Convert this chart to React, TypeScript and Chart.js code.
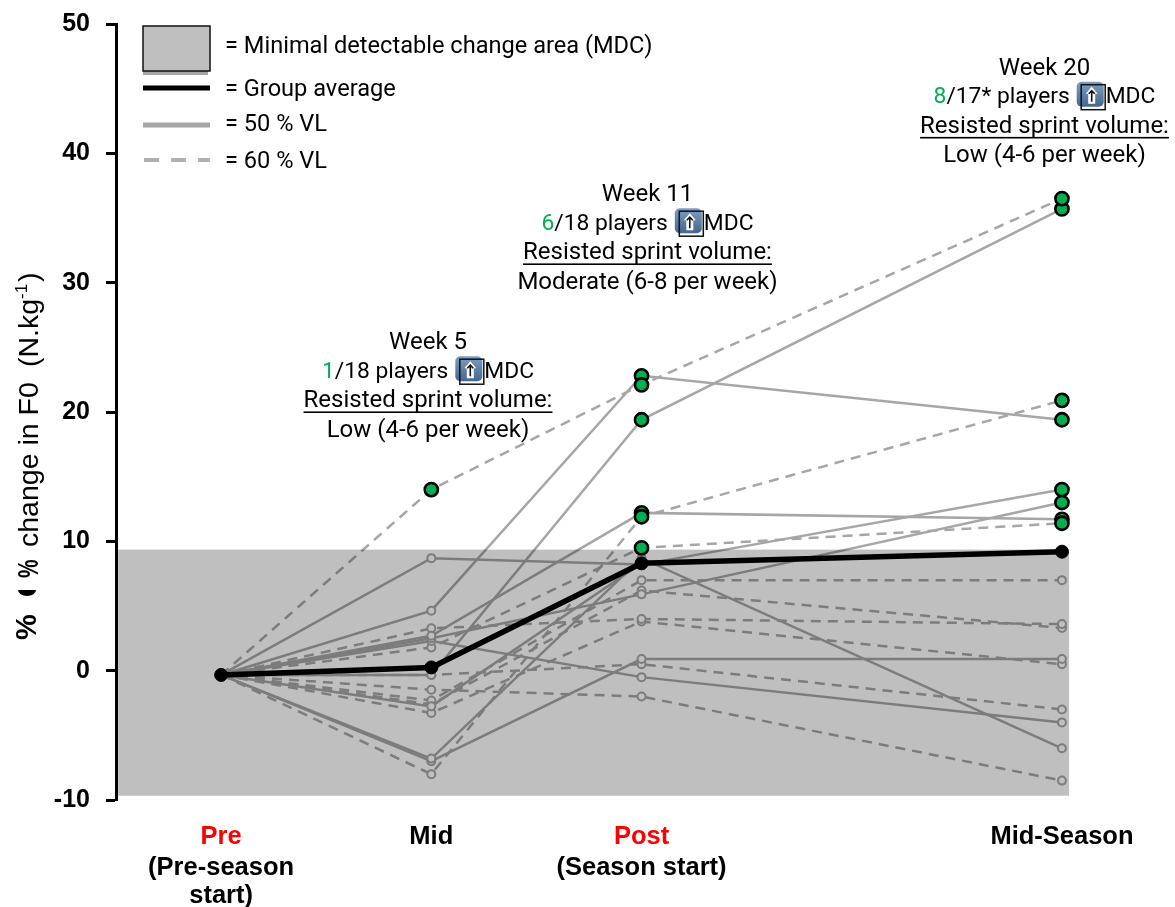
import React, { useEffect, useRef } from "react";
import { Chart, registerables } from "chart.js";

Chart.register(...registerables);

// ---------- data ----------
const timeWeeks = [0, 5, 10, 20];
const preValue = -0.33;
const groupAverage = [-0.33, 0.25, 8.3, 9.2];

const solidMid = [8.7, 4.64, 2.7, 2.5, 2.3, -0.33, -2.76, -6.8, -7.0];
const solidPost = [8.2, 22.8, 12.2, 5.9, -0.5, 19.4, 8.3, 8.7, 0.9];
const solidSeason = [14.0, 19.4, 11.7, 13.0, -4.0, 35.7, null, -6.0, 0.9];

const dashedMid = [14.0, 3.27, 1.8, -0.33, -1.47, -2.3, -2.6, -3.27, -8.0];
const dashedPost = [22.1, 4.0, 9.5, 0.5, -2.0, 7.0, 6.2, 3.8, 11.9];
const dashedSeason = [36.5, 3.6, 11.4, -3.0, -8.5, 7.0, 3.3, 0.5, 20.9];

const mdcUpper = 9.36;
const mdcLower = -9.67;

const yTicks = [-10, 0, 10, 20, 30, 40, 50];
const xTickLabels = ["Pre", "Mid", "Post", "Mid-Season"];
const xTickColors = ["#ff0000", "#000000", "#ff0000", "#000000"];
const xSubLabels = [["(Pre-season", "start)"], [], ["(Season start)"], []];

const legendLabels = [
  "= Minimal detectable change area (MDC)",
  "= Group average",
  "= 50 % VL",
  "= 60 % VL",
];

const noteWeeks = ["Week 5", "Week 11", "Week 20"];
const noteCounts = ["1", "6", "8"];
const noteTotals = ["/18 players", "/18 players", "/17* players"];
const noteVolumes = ["Low (4-6 per week)", "Moderate (6-8 per week)", "Low (4-6 per week)"];
const noteHeading = "Resisted sprint volume:";

// ---------- layout of the text blocks ----------
const noteCenters = [428, 647.5, 1044.5];
const noteTops = [343, 195, 68.5];
const noteLineGap = 29.2;
const TEXT_FONT = "24px Roboto";
const COUNT_FONT = "22.8px Roboto";
const LEGEND_FONT = "23.6px Roboto";
const BOLD_AXIS = 'bold 25.5px "Liberation Sans"';

const GREY = "#a6a6a6";
const GREEN = "#00b050";

function trajectory(mid: number, post: number, season: number | null) {
  const ys = [preValue, mid, post, season];
  return timeWeeks
    .map((x, i) => ({ x, y: ys[i] }))
    .filter((p) => p.y !== null);
}

function drawIcon(ctx: CanvasRenderingContext2D, x: number, yc: number) {
  // blue rounded tile
  const g = ctx.createLinearGradient(0, yc - 14, 0, yc + 10);
  g.addColorStop(0, "#7e9fc2");
  g.addColorStop(1, "#47698f");
  ctx.fillStyle = g;
  ctx.beginPath();
  ctx.roundRect(x, yc - 14, 27, 25, 5);
  ctx.fill();
  // white arrow
  const c = x + 15;
  ctx.fillStyle = "#ffffff";
  ctx.beginPath();
  ctx.moveTo(c, yc - 9);
  ctx.lineTo(c + 6, yc - 2);
  ctx.lineTo(c + 3.5, yc - 2);
  ctx.lineTo(c + 3.5, yc + 8);
  ctx.lineTo(c - 3.5, yc + 8);
  ctx.lineTo(c - 3.5, yc - 2);
  ctx.lineTo(c - 6, yc - 2);
  ctx.closePath();
  ctx.fill();
  // frame
  ctx.strokeStyle = "#111111";
  ctx.lineWidth = 1.5;
  ctx.strokeRect(x + 4.5, yc - 11, 24, 25);
  // small black arrow
  ctx.lineWidth = 1.6;
  ctx.beginPath();
  ctx.moveTo(c, yc + 6);
  ctx.lineTo(c, yc - 5);
  ctx.moveTo(c - 3, yc - 2);
  ctx.lineTo(c, yc - 5);
  ctx.lineTo(c + 3, yc - 2);
  ctx.stroke();
}

const chartDecor = {
  id: "chartDecor",
  beforeDatasetDraw(chart: any, args: any) {
    // MDC band is laid over the individual players, under the highlighted marks
    if (args.index !== 1) return;
    const { x, y } = chart.scales;
    const ctx = chart.ctx;
    ctx.save();
    ctx.fillStyle = "rgba(0,0,0,0.25)";
    const left = x.getPixelForValue(-2.45);
    const right = x.getPixelForValue(20.17);
    const top = y.getPixelForValue(mdcUpper);
    const bottom = y.getPixelForValue(mdcLower);
    ctx.fillRect(left, top, right - left, bottom - top);
    ctx.restore();
  },
  afterDraw(chart: any) {
    const ctx = chart.ctx;
    const xs = chart.scales.x;
    ctx.save();

    // x sub labels
    ctx.fillStyle = "#000";
    ctx.font = BOLD_AXIS;
    ctx.textAlign = "center";
    ctx.textBaseline = "middle";
    xSubLabels.forEach((lines, i) => {
      lines.forEach((t, j) => {
        ctx.fillText(t, xs.getPixelForValue(timeWeeks[i]), 867.5 + j * 28.5);
      });
    });

    // y title
    ctx.save();
    ctx.translate(36, 640);
    ctx.rotate(-Math.PI / 2);
    ctx.textAlign = "left";
    ctx.textBaseline = "alphabetic";
    ctx.font = 'bold 29px "Liberation Sans"';
    ctx.fillText("%", 0, 0);
    ctx.beginPath();
    ctx.ellipse(50, -9, 6, 9, 0, Math.PI / 2, (3 * Math.PI) / 2);
    ctx.fill();
    ctx.save();
    ctx.translate(62, 2);
    ctx.scale(0.72, 1);
    ctx.fillText("%", 0, 0);
    ctx.restore();
    ctx.font = '28.5px "Liberation Sans"';
    ctx.fillText("change in F0", 93, 2);
    ctx.fillText("(N.kg", 273, 2);
    ctx.font = '17px "Liberation Sans"';
    ctx.fillText("-1", 341, -9);
    ctx.font = '28.5px "Liberation Sans"';
    ctx.fillText(")", 358, 2);
    ctx.restore();

    // legend
    ctx.fillStyle = "#a6a6a6";
    ctx.fillRect(143, 70, 65, 5);
    ctx.fillStyle = "#bfbfbf";
    ctx.fillRect(143, 26, 67, 45);
    ctx.strokeStyle = "#111";
    ctx.lineWidth = 1.5;
    ctx.strokeRect(143, 26, 67, 45);

    ctx.strokeStyle = "#000";
    ctx.lineWidth = 5;
    ctx.beginPath();
    ctx.moveTo(143, 88);
    ctx.lineTo(210, 88);
    ctx.stroke();
    ctx.strokeStyle = GREY;
    ctx.beginPath();
    ctx.moveTo(143, 125);
    ctx.lineTo(210, 125);
    ctx.stroke();
    ctx.lineWidth = 4;
    ctx.strokeStyle = "#b0b0b0";
    ctx.setLineDash([15, 12]);
    ctx.beginPath();
    ctx.moveTo(144, 160);
    ctx.lineTo(210, 160);
    ctx.stroke();
    ctx.setLineDash([]);

    ctx.font = LEGEND_FONT;
    ctx.textAlign = "left";
    ctx.fillStyle = "#000";
    const legendYs = [47, 90, 125, 162];
    legendLabels.forEach((t, i) => ctx.fillText(t, 225, legendYs[i]));

    // notes
    noteWeeks.forEach((week, i) => {
      const cx = noteCenters[i];
      const top = noteTops[i];
      ctx.font = TEXT_FONT;
      ctx.textAlign = "center";
      ctx.fillStyle = "#000";
      ctx.fillText(week, cx, top);
      ctx.fillText(noteVolumes[i], cx, top + noteLineGap * 3);
      ctx.fillText(noteHeading, cx, top + noteLineGap * 2);
      const hw = ctx.measureText(noteHeading).width;
      ctx.fillRect(cx - hw / 2, top + noteLineGap * 2 + 10, hw, 1.6);

      // count line
      ctx.font = COUNT_FONT;
      const count = noteCounts[i];
      const total = noteTotals[i];
      const iconW = 29;
      const cw = ctx.measureText(count).width;
      const tw = ctx.measureText(total).width;
      const mw = ctx.measureText("MDC").width;
      const full = cw + tw + 7 + iconW + mw;
      let px = cx - full / 2;
      ctx.textAlign = "left";
      ctx.fillStyle = GREEN;
      ctx.fillText(count, px, top + noteLineGap);
      px += cw;
      ctx.fillStyle = "#000";
      ctx.fillText(total, px, top + noteLineGap);
      px += tw + 7;
      drawIcon(ctx, px, top + noteLineGap - 2);
      px += iconW;
      ctx.fillStyle = "#000";
      ctx.fillText("MDC", px, top + noteLineGap);
    });
    ctx.restore();
  },
};

export default function App() {
  const ref = useRef<HTMLCanvasElement | null>(null);

  useEffect(() => {
    if (!ref.current) return;

    const solidSets = solidMid.map((m, i) => ({
      data: trajectory(m, solidPost[i], solidSeason[i]),
      borderColor: GREY,
      borderWidth: 2.5,
      pointBackgroundColor: "#ffffff",
      pointBorderColor: GREY,
      pointBorderWidth: 2,
      pointRadius: 4,
      tension: 0,
    }));
    const dashedSets = dashedMid.map((m, i) => ({
      data: trajectory(m, dashedPost[i], dashedSeason[i]),
      borderColor: GREY,
      borderWidth: 2.5,
      borderDash: [10, 7],
      pointBackgroundColor: "#ffffff",
      pointBorderColor: GREY,
      pointBorderWidth: 2,
      pointRadius: 4,
      tension: 0,
    }));

    const highlighted: { x: number; y: number }[] = [];
    [...solidSets, ...dashedSets].forEach((s) =>
      s.data.forEach((p: any) => {
        if (p.y > mdcUpper) highlighted.push(p);
      })
    );

    const chart = new Chart(ref.current, {
      type: "line",
      data: {
        datasets: [
          {
            data: timeWeeks.map((x, i) => ({ x, y: groupAverage[i] })),
            borderColor: "#000000",
            borderWidth: 5.5,
            pointBackgroundColor: "#000000",
            pointBorderColor: "#000000",
            pointRadius: 6.5,
            pointBorderWidth: 1,
            tension: 0,
          },
          {
            data: highlighted,
            showLine: false,
            pointBackgroundColor: GREEN,
            pointBorderColor: "#000000",
            pointBorderWidth: 2.6,
            pointRadius: 6.6,
          },
          ...solidSets,
          ...dashedSets,
        ] as any,
      },
      options: {
        responsive: false,
        animation: false,
        events: [],
        layout: { padding: { left: 0, right: 2, top: 24, bottom: 0 } },
        plugins: { legend: { display: false }, tooltip: { enabled: false } },
        scales: {
          x: {
            type: "linear",
            min: -2.5,
            max: 22.47,
            afterBuildTicks(axis: any) {
              axis.ticks = timeWeeks.map((value) => ({ value }));
            },
            afterFit(axis: any) {
              axis.height = 107;
              axis.paddingLeft = 0;
              axis.paddingRight = 0;
            },
            border: { display: false },
            grid: { display: false, drawTicks: false },
            ticks: {
              autoSkip: false,
              maxRotation: 0,
              padding: 22,
              font: { family: "Liberation Sans", size: 25.5, weight: "bold" },
              color: (c: any) => xTickColors[timeWeeks.indexOf(c.tick.value)],
              callback: (v: any) => xTickLabels[timeWeeks.indexOf(v)],
            },
          },
          y: {
            type: "linear",
            min: -10,
            max: 50,
            afterBuildTicks(axis: any) {
              axis.ticks = yTicks.map((value) => ({ value }));
            },
            afterFit(axis: any) {
              axis.width = 116;
              axis.paddingTop = 0;
              axis.paddingBottom = 0;
            },
            border: { display: true, color: "#000", width: 3 },
            grid: {
              drawOnChartArea: false,
              drawTicks: true,
              tickLength: 10,
              tickWidth: 3,
              tickColor: "#000",
            },
            ticks: {
              padding: 16,
              font: { family: "Liberation Sans", size: 25, weight: "bold" },
              color: "#000",
            },
          },
        },
      },
      plugins: [chartDecor],
    } as any);
    return () => chart.destroy();
  }, []);

  return (
    <canvas
      ref={ref}
      width={1175}
      height={907}
      style={{ position: "absolute", left: 0, top: 0, display: "block" }}
    />
  );
}
